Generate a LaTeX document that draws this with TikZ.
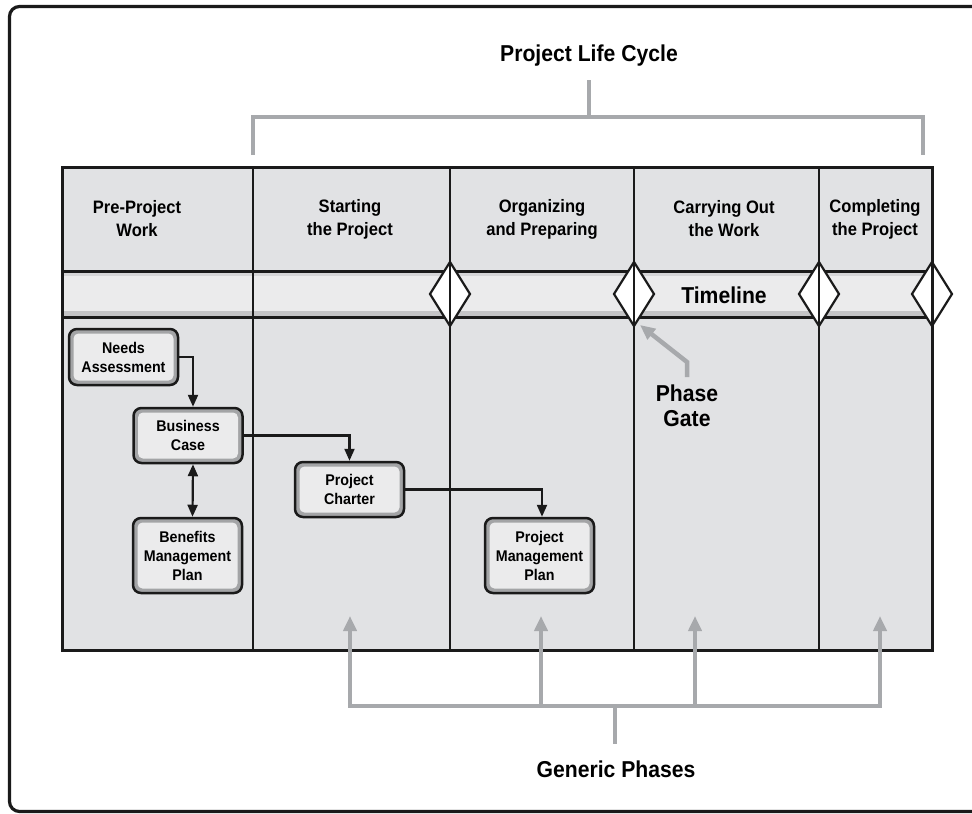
\documentclass[tikz,border=0pt]{standalone}
\usepackage{fontspec}
\setmainfont{Liberation Sans}[FakeStretch=0.92]
\usetikzlibrary{arrows.meta}
\definecolor{tblfill}{HTML}{E1E2E4}
\definecolor{bandfill}{HTML}{EBEBEC}
\definecolor{bandshade}{HTML}{C4C4C6}
\definecolor{brgray}{HTML}{A7A9AC}
\definecolor{boxfill}{HTML}{EBEBEC}
\definecolor{boxband}{HTML}{A3A4A6}
\definecolor{ink}{HTML}{1A1A1A}
\tikzset{
  hdr/.style={align=center, inner sep=0pt, font=\fontsize{18}{23}\selectfont\bfseries},
  bigtext/.style={align=center, inner sep=0pt, font=\fontsize{23}{25}\selectfont\bfseries},
  flowbox/.style={draw=ink, line width=2.5pt, fill=boxband, rounded corners=8pt,
    minimum width=109pt, inner sep=0pt, align=center,
    font=\fontsize{15.5}{19}\selectfont\bfseries,
    path picture={\fill[boxfill, rounded corners=5pt]
      ([shift={(4.5pt,-4.5pt)}]path picture bounding box.north west) rectangle
      ([shift={(-4.5pt,4.5pt)}]path picture bounding box.south east);}},
  conn/.style={draw=ink, line width=2.2pt, -{Triangle[length=12pt,width=10pt]}},
  dconn/.style={draw=ink, line width=2.2pt, {Triangle[length=12pt,width=10pt]}-{Triangle[length=12pt,width=10pt]}},
  gline/.style={draw=brgray, line width=4.5pt},
  garrow/.style={draw=brgray, line width=4.5pt, -{Triangle[length=15pt,width=13pt]}},
}
\begin{document}
\begin{tikzpicture}[x=1pt,y=-1pt]
\useasboundingbox (0,0) rectangle (972,814);
% outer frame (open on the right)
\draw[ink, line width=3.2pt, rounded corners=10pt] (990,6.5) -- (9.5,6.5) -- (9.5,811.5) -- (990,811.5);
% table body
\fill[tblfill] (62,167) rectangle (932,650);
\fill[bandfill] (62,271) rectangle (932,317);
\fill[bandshade!55!bandfill] (62,271) rectangle (932,276);
\fill[bandshade] (62,311) rectangle (932,317);
\draw[ink, line width=3pt] (62,271) -- (932,271) (62,317) -- (932,317);
% phase gates
\foreach \x in {450,634,819,932}
  \draw[ink, line width=2.2pt, fill=white] (\x,262) -- (\x+20,294) -- (\x,326) -- (\x-20,294) -- cycle;
% column lines
\foreach \x in {253,450,634,819}
  \draw[ink, line width=2.4pt] (\x,167) -- (\x,650);
\draw[ink, line width=3pt] (62,167) rectangle (932,650);
% headers
\node[hdr] (h1) at (137,219) {Pre-Project\\Work};
\node[hdr] (h2) at (350,219) {Starting\\the Project};
\node[hdr] (h3) at (542,219) {Organizing\\and Preparing};
\node[hdr] (h4) at (724,219) {Carrying Out\\the Work};
\node[hdr] (h5) at (875,219) {Completing\\the Project};
\node[bigtext] (tl) at (724,295) {Timeline};
% top bracket
\node[bigtext] (plc) at (589,56) {Project Life Cycle};
\coordinate (ts) at (589,80);
\coordinate (tj) at (589,117);
\draw[gline] (253,155) -- (253,117) -- (923,117) -- (923,155);
\draw[gline] (ts) -- (tj);
% phase gate label
\node[bigtext] (pg) at (687,406) {Phase\\Gate};
\coordinate (pgs) at (687,377);
\coordinate (pgt) at (640,325);
\draw[garrow] (pgs) -- (687,362) -- (pgt);
% bottom bracket
\coordinate (a1) at (350,616);
\coordinate (a2) at (541,616);
\coordinate (a3) at (695,616);
\coordinate (a4) at (880,616);
\coordinate (gs) at (615,744);
\draw[gline] (348,706) -- (882,706);
\draw[gline] (615,706) -- (gs);
\foreach \c/\x in {a1/350,a2/541,a3/695,a4/880}
  \draw[garrow] (\x,706) -- (\c);
\node[bigtext] (gp) at (616,769) {Generic Phases};
% flow boxes
\node[flowbox, minimum height=56pt] (na) at (123.5,357) {Needs\\Assessment};
\node[flowbox, minimum height=55pt] (bc) at (188,435.5) {Business\\Case};
\node[flowbox, minimum height=75pt] (bm) at (187.5,555.5) {Benefits\\Management\\Plan};
\node[flowbox, minimum height=55pt] (pc) at (349.5,489.5) {Project\\Charter};
\node[flowbox, minimum height=75pt] (pm) at (539.5,555.5) {Project\\Management\\Plan};
\draw[conn] (na.east) -| ([xshift=5pt]bc.north);
\draw[conn] (bc.east) -| (pc.north);
\draw[conn] (pc.east) -| ([xshift=2.5pt]pm.north);
\draw[dconn] ([xshift=5pt]bc.south) -- ([xshift=5pt]bm.north);
\end{tikzpicture}
\end{document}
